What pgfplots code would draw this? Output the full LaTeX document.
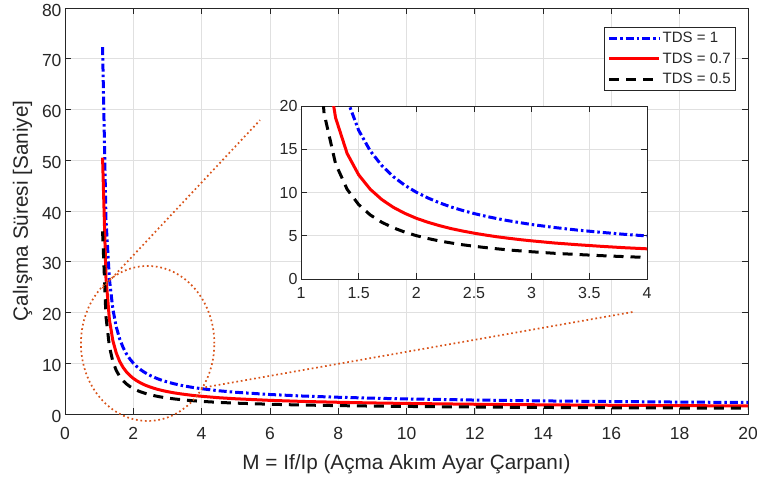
\documentclass[border=0pt]{standalone}
\usepackage{pgfplots}
\usepackage{pgfplotstable}
\pgfplotsset{compat=1.18}
\usepackage{fontspec}
\setmainfont{Liberation Sans}
\definecolor{mblue}{rgb}{0,0,1}
\definecolor{mred}{rgb}{1,0,0}
\definecolor{morange}{rgb}{0.85,0.325,0.098}
\definecolor{axgray}{rgb}{0.15,0.15,0.15}
\definecolor{gridgray}{rgb}{0.88,0.88,0.88}

\pgfplotstableread{
M t1 t07 t05
1.1 72.3 50.5 36.0
1.2 38.32 26.83 19.16
1.3 26.61 18.63 13.31
1.4 20.73 14.51 10.37
1.5 17.19 12.04 8.60
1.6 14.82 10.38 7.41
1.7 13.12 9.19 6.56
1.8 11.84 8.29 5.92
1.9 10.84 7.59 5.42
2.0 10.03 7.02 5.01
2.1 9.37 6.56 4.68
2.2 8.81 6.17 4.40
2.3 8.33 5.83 4.17
2.4 7.93 5.55 3.96
2.5 7.57 5.30 3.79
2.6 7.26 5.08 3.63
2.7 6.98 4.88 3.49
2.8 6.73 4.71 3.36
2.9 6.51 4.55 3.25
3.0 6.30 4.41 3.15
3.2 5.95 4.16 2.97
3.4 5.65 3.96 2.83
3.6 5.40 3.78 2.70
3.8 5.17 3.62 2.59
4.0 4.98 3.49 2.49
4.5 4.58 3.21 2.29
5 4.28 3.00 2.14
6 3.84 2.69 1.92
7 3.53 2.47 1.76
8 3.30 2.31 1.65
9 3.12 2.18 1.56
10 2.97 2.08 1.49
12 2.75 1.92 1.37
14 2.58 1.81 1.29
16 2.46 1.72 1.23
18 2.35 1.65 1.18
20 2.27 1.59 1.13
}\curvedata

\tikzset{
  tdsone/.style={mblue, line width=3pt, dash pattern=on 8pt off 3pt on 2.5pt off 3pt},
  tdsseven/.style={mred, line width=3pt},
  tdsfive/.style={black, line width=3pt, dash pattern=on 10pt off 7pt},
  annot/.style={morange, line width=1.7pt, dash pattern=on 1.7pt off 2.8pt},
}
\pgfplotsset{
  mlstyle/.style={
    scale only axis,
    grid=major,
    major grid style={gridgray, line width=0.6pt},
    axis line style={axgray, line width=0.7pt},
    tick style={axgray, line width=0.7pt},
    tick align=inside,
    major tick length=6pt,
    /pgf/number format/assume math mode=true,
  },
}

\begin{document}
\begin{tikzpicture}
\begin{axis}[mlstyle,
  at={(0pt,0pt)}, anchor=south west,
  width=683pt, height=406pt,
  xmin=0, xmax=20, ymin=0, ymax=80,
  xtick={0,2,4,6,8,10,12,14,16,18,20},
  ytick={0,10,20,30,40,50,60,70,80},
  ticklabel style={font=\fontsize{17.5}{20}\selectfont, text=axgray},
  xticklabel style={yshift=-10pt},
  yticklabel style={yshift=-2pt},
  xlabel={M = If/Ip (Açma Akım Ayar Çarpanı)},
  ylabel={Çalışma Süresi [Saniye]},
  label style={font=\fontsize{20.7}{24}\selectfont, text=axgray},
  xlabel style={at={(axis description cs:0.5,-0.124)}, anchor=center},
  ylabel style={at={(axis description cs:-0.062,0.5)}, anchor=center},
  legend image code/.code={\draw[#1] plot coordinates {(0pt,0pt) (25pt,0pt) (50pt,0pt)};},
  legend style={at={(0.9824,0.9532)}, anchor=north east, draw=axgray, line width=0.6pt,
    fill=white, font=\fontsize{15}{18}\selectfont, text=axgray,
    inner sep=3pt, row sep=4.5pt, cells={anchor=west}},
]
\addplot[tdsone] table[x=M, y=t1] {\curvedata};
\addlegendentry{TDS = 1}
\addplot[tdsseven] table[x=M, y=t07] {\curvedata};
\addlegendentry{TDS = 0.7}
\addplot[tdsfive] table[x=M, y=t05] {\curvedata};
\addlegendentry{TDS = 0.5}
\coordinate (ec) at (axis cs:2.42,13.9);
\coordinate (l1a) at (axis cs:1.10,24.8);
\coordinate (l1b) at (axis cs:5.71,57.9);
\coordinate (l2a) at (axis cs:3.98,5.12);
\coordinate (l2b) at (axis cs:16.62,20.1);
\end{axis}

\begin{axis}[mlstyle,
  at={(236pt,135pt)}, anchor=south west,
  width=346pt, height=173pt,
  xmin=1, xmax=4, ymin=0, ymax=20,
  xtick={1,1.5,2,2.5,3,3.5,4},
  ytick={0,5,10,15,20},
  xticklabels={1,1.5,2,2.5,3,3.5,4},
  ticklabel style={font=\fontsize{16}{19}\selectfont, text=axgray},
  xticklabel style={yshift=-5pt},
  axis background/.style={fill=white},
]
\addplot[tdsone] table[x=M, y=t1] {\curvedata};
\addplot[tdsseven] table[x=M, y=t07] {\curvedata};
\addplot[tdsfive] table[x=M, y=t05] {\curvedata};
\end{axis}

\draw[annot] (ec) ellipse [x radius=66.7pt, y radius=77.5pt];
\draw[annot] (l1a) -- (l1b);
\draw[annot] (l2a) -- (l2b);

\pgfresetboundingbox
\path[use as bounding box] (-65pt,-66pt) rectangle (692pt,414pt);
\end{tikzpicture}
\end{document}
